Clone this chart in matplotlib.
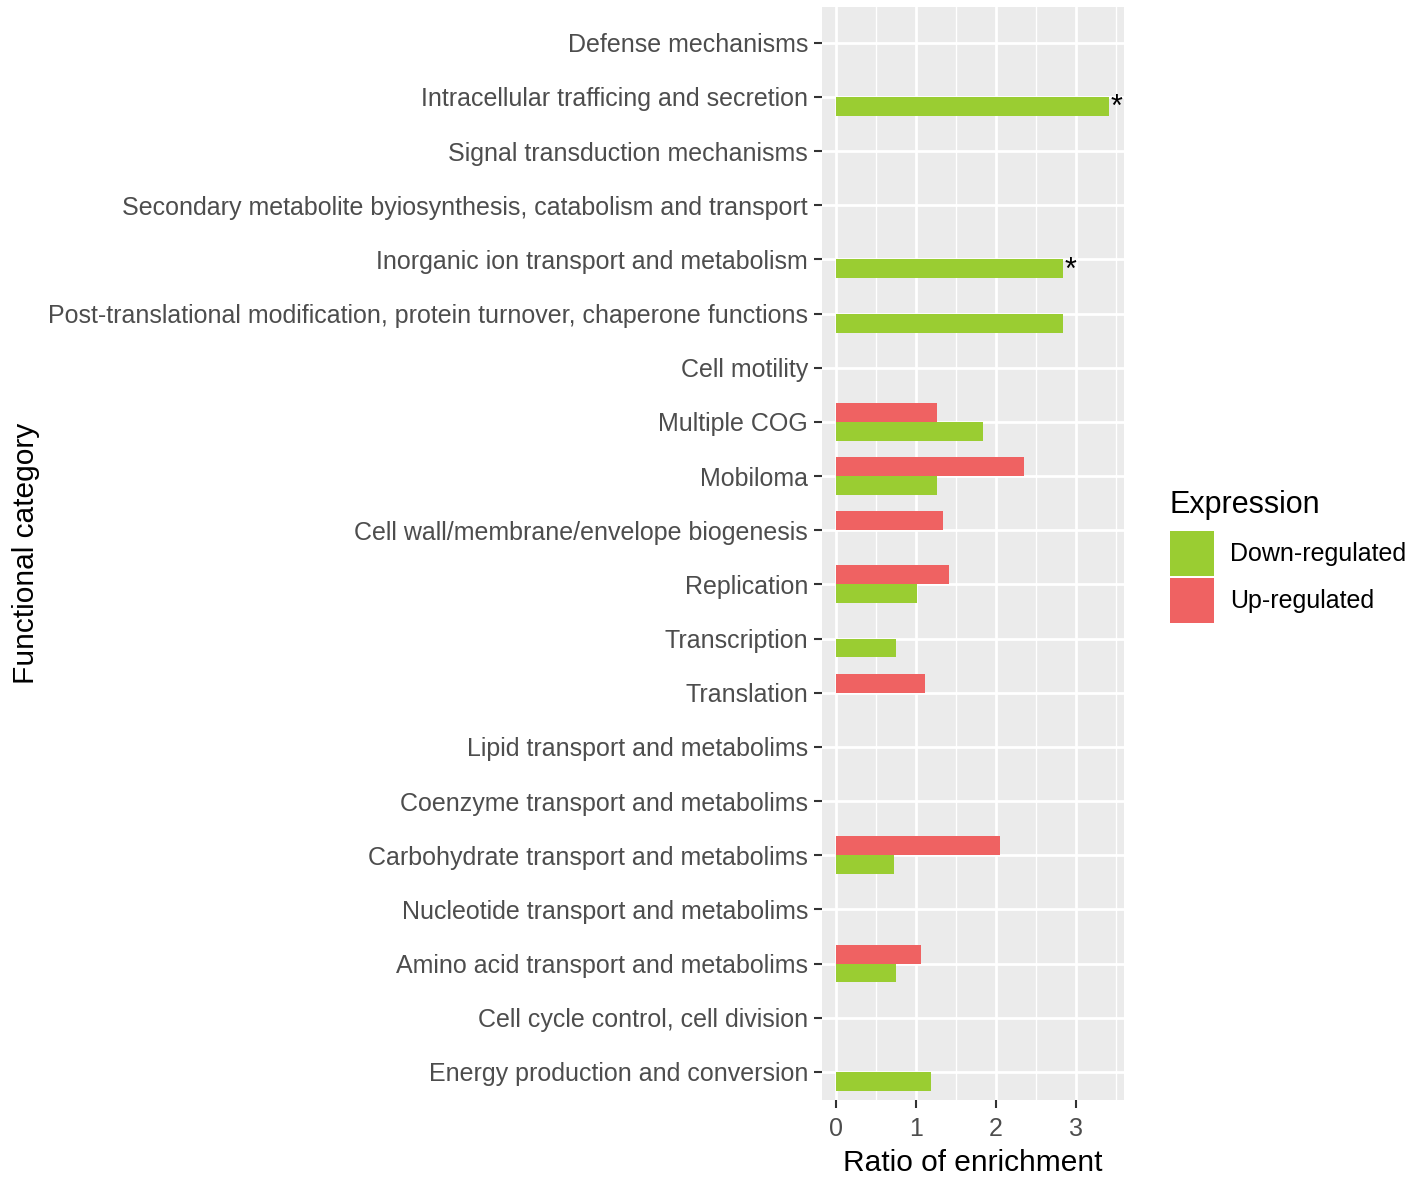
import matplotlib.pyplot as plt
from matplotlib.patches import Patch
import numpy as np

plt.rcParams['font.family'] = ['Liberation Sans', 'DejaVu Sans']

# categories top to bottom
categories = [
    "Defense mechanisms",
    "Intracellular trafficing and secretion",
    "Signal transduction mechanisms",
    "Secondary metabolite byiosynthesis, catabolism and transport",
    "Inorganic ion transport and metabolism",
    "Post-translational modification, protein turnover, chaperone functions",
    "Cell motility",
    "Multiple COG",
    "Mobiloma",
    "Cell wall/membrane/envelope biogenesis",
    "Replication",
    "Transcription",
    "Translation",
    "Lipid transport and metabolims",
    "Coenzyme transport and metabolims",
    "Carbohydrate transport and metabolims",
    "Nucleotide transport and metabolims",
    "Amino acid transport and metabolims",
    "Cell cycle control, cell division",
    "Energy production and conversion",
]
down_regulated = [0, 3.415, 0, 0, 2.833, 2.833, 0, 1.84, 1.26, 0,
                  1.01, 0.754, 0, 0, 0, 0.729, 0, 0.754, 0, 1.19]
up_regulated = [0, 0, 0, 0, 0, 0, 0, 1.26, 2.35, 1.34,
                1.41, 0, 1.107, 0, 0, 2.045, 0, 1.057, 0, 0]
significant = ["Intracellular trafficing and secretion",
               "Inorganic ion transport and metabolism"]

green = '#9acd32'
red = '#ef6262'
grey_txt = '#4d4d4d'

fig = plt.figure(figsize=(14.18, 11.81), dpi=100)
ax = fig.add_axes([822/1418, 1 - 1100/1181, (1124-822)/1418, (1100-7)/1181])

n = len(categories)
ypos = np.arange(n, 0, -1)  # top category gets highest position
h = 0.35

ax.barh(ypos + h/2, up_regulated, height=h, color=red, zorder=3)
ax.barh(ypos - h/2, down_regulated, height=h, color=green, zorder=3)

for cat, yv, v in zip(categories, ypos, down_regulated):
    if cat in significant:
        ax.text(v + 0.02, yv - h/2 - 0.03, "*", ha='left', va='center',
                fontsize=22, color='black', zorder=4)

ax.set_facecolor('#ebebeb')
for s in ax.spines.values():
    s.set_visible(False)

ax.set_xlim(-0.175, 3.6)
ax.set_ylim(0.48, n + 0.66)
ax.set_xticks([0, 1, 2, 3])
ax.set_xticks([0.5, 1.5, 2.5, 3.5], minor=True)
ax.set_yticks(ypos)
ax.set_yticklabels(categories)
ax.grid(which='major', color='white', linewidth=2.0, zorder=0)
ax.grid(which='minor', axis='x', color='white', linewidth=1.0, zorder=0)
ax.set_axisbelow(True)
ax.tick_params(axis='both', which='major', colors='#333333', labelcolor=grey_txt,
               labelsize=18, length=6, width=1.5, pad=4)
ax.tick_params(axis='x', which='major', pad=6)
ax.tick_params(axis='x', which='minor', length=0)

ax.set_xlabel("Ratio of enrichment", fontsize=21.5, color='black', labelpad=6)
ax.set_ylabel("Functional category", fontsize=21.5, color='black', labelpad=0)
ax.yaxis.set_label_coords(-2.59, 0.5)

handles = [Patch(facecolor=green, label='Down-regulated'),
           Patch(facecolor=red, label='Up-regulated')]
leg = fig.legend(handles=handles, title='Expression', loc='upper left',
                 bbox_to_anchor=(1160/1418, 1 - 480/1181), frameon=False,
                 fontsize=18, title_fontsize=22, handlelength=1.76, handleheight=2.39,
                 labelspacing=0.08, handletextpad=0.65, borderaxespad=0)
leg._legend_box.align = 'left'
leg._legend_box.sep = 8

fig.savefig('out.png', dpi=100)
